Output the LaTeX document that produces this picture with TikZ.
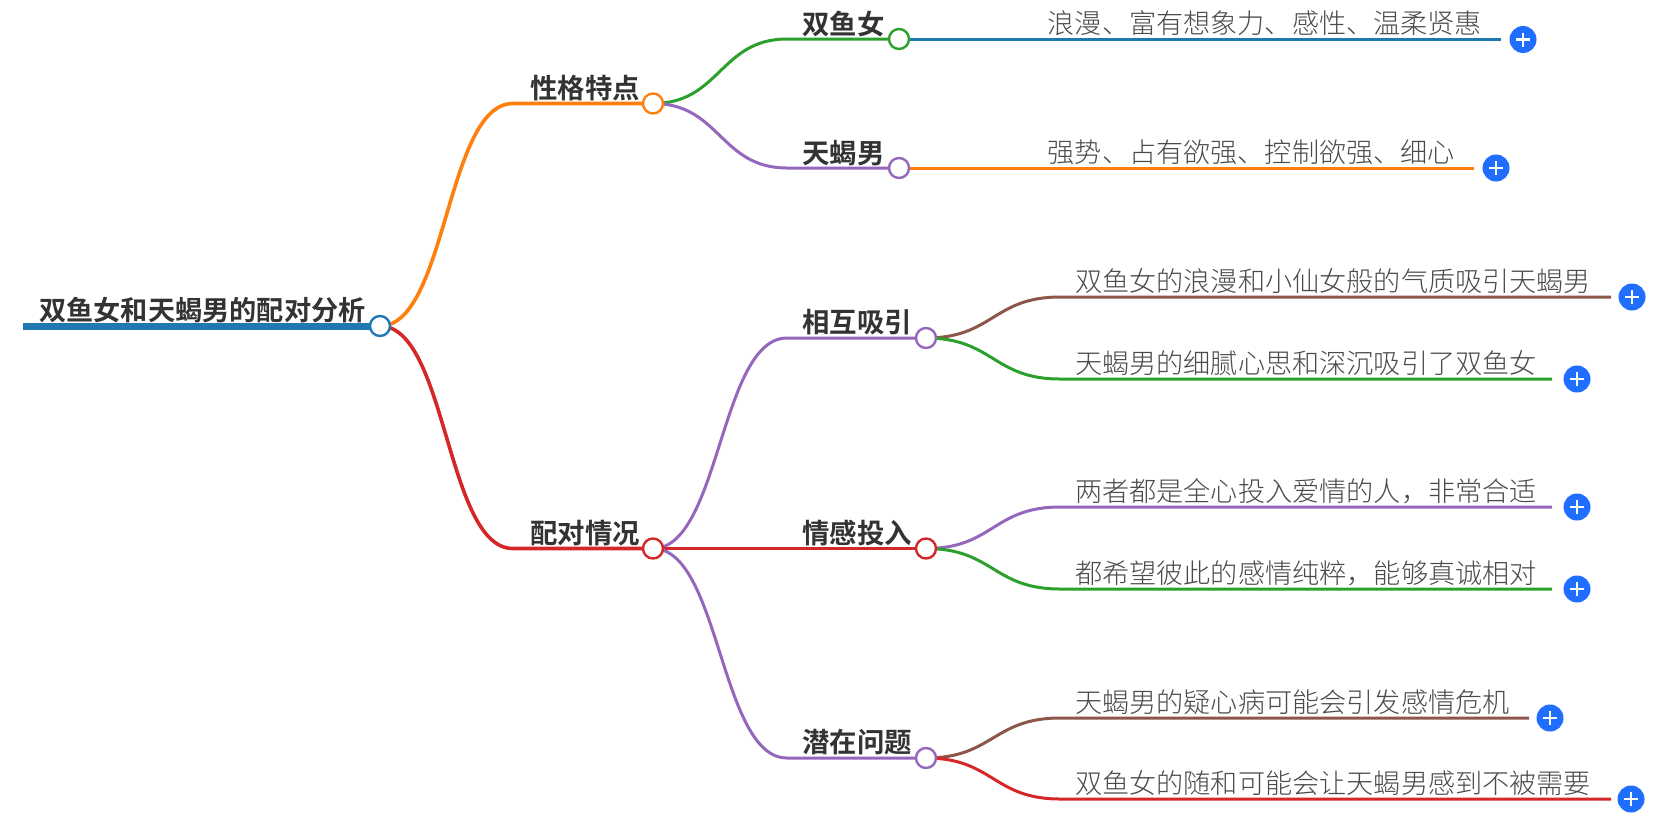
\documentclass[tikz,border=0pt]{standalone}
\usepackage{fontspec}
\usetikzlibrary{backgrounds}
\newfontfamily\cjkbold[BoldFont={Noto Sans CJK SC Bold}]{Noto Sans CJK SC}
\newfontfamily\cjklight{Noto Sans CJK SC Light}
\definecolor{mblue}{HTML}{1F77B4}
\definecolor{morange}{HTML}{FF7F0E}
\definecolor{mgreen}{HTML}{2CA02C}
\definecolor{mred}{HTML}{D62728}
\definecolor{mpurple}{HTML}{9467BD}
\definecolor{mbrown}{HTML}{8C564B}
\definecolor{plusblue}{HTML}{1F6EFF}
\definecolor{ink}{HTML}{333333}
\definecolor{leafink}{HTML}{4A4A4A}
\tikzset{
  hub/.style={circle,draw=#1,fill=white,line width=2.4pt,minimum size=20pt,inner sep=0pt},
  wire/.style={draw=#1,line width=3pt},
  rootlabel/.style={anchor=west,inner sep=0pt,text=ink,font=\cjkbold\bfseries\fontsize{27.2}{30}\selectfont},
  branchlabel/.style={anchor=west,inner sep=0pt,text=ink,font=\cjkbold\bfseries\fontsize{27.4}{30}\selectfont},
  leaflabel/.style={anchor=west,inner sep=0pt,text=leafink,font=\cjklight\fontsize{27.15}{30}\selectfont},
  plusbtn/.style={circle,fill=plusblue,minimum size=27pt,inner sep=0pt,
    path picture={\draw[white,line width=2.6pt]
      ([xshift=-7pt]path picture bounding box.center)--([xshift=7pt]path picture bounding box.center)
      ([yshift=-7pt]path picture bounding box.center)--([yshift=7pt]path picture bounding box.center);}},
}
\newcommand{\curvewire}[4]{\draw[wire=#1] (#2) .. controls +(67,0) and +(-67,0) .. (#3) -- (#4);}
\begin{document}
\begin{tikzpicture}[x=1pt,y=-1pt]
\useasboundingbox (0,0) rectangle (1677,817);
% hubs
\node[hub=mblue] (root) at (380,326) {};
\node[hub=morange] (trait) at (653,103.5) {};
\node[hub=mred] (pair) at (653,548.5) {};
\node[hub=mgreen] (fish) at (899,39) {};
\node[hub=mpurple] (scorp) at (899,168) {};
\node[hub=mpurple] (attract) at (926,338) {};
\node[hub=mred] (emotion) at (926,548.5) {};
\node[hub=mpurple] (risk) at (926,758) {};
% plus buttons
\node[plusbtn] (p1) at (1523,39.5) {};
\node[plusbtn] (p2) at (1496,168) {};
\node[plusbtn] (p3) at (1632,297) {};
\node[plusbtn] (p4) at (1577,379) {};
\node[plusbtn] (p5) at (1577,507) {};
\node[plusbtn] (p6) at (1577,589) {};
\node[plusbtn] (p7) at (1550,718) {};
\node[plusbtn] (p8) at (1631,799) {};
% free ends
\coordinate (rs) at (23,326);
\coordinate (t0) at (513,103.5);
\coordinate (q0) at (513,548.5);
\coordinate (f0) at (787,39);
\coordinate (s0) at (787,168);
\coordinate (a0) at (787,338);
\coordinate (r0) at (787,758);
\coordinate (l3a) at (1060,297);
\coordinate (l3b) at (1611,297);
\coordinate (l4a) at (1060,379);
\coordinate (l4b) at (1552,379);
\coordinate (l5a) at (1060,507);
\coordinate (l5b) at (1552,507);
\coordinate (l6a) at (1060,589);
\coordinate (l6b) at (1552,589);
\coordinate (l7a) at (1060,718);
\coordinate (l7b) at (1529,718);
\coordinate (l8a) at (1060,799);
\coordinate (l8b) at (1611,799);
\coordinate (l1b) at (1501,39);
\coordinate (l2b) at (1474,168);
\begin{scope}[on background layer]
\draw[wire=mblue,line width=7pt] (rs) -- (root.center);
\draw[wire=morange,line width=3.6pt] (root.center) .. controls +(67,0) and +(-67,0) .. (t0) -- (trait.center);
\draw[wire=mred,line width=3.6pt] (root.center) .. controls +(67,0) and +(-67,0) .. (q0) -- (pair.center);
\curvewire{mgreen}{trait.center}{f0}{fish.center}
\curvewire{mpurple}{trait.center}{s0}{scorp.center}
\curvewire{mpurple}{pair.center}{a0}{attract.center}
\draw[wire=mred] (pair.center) -- (emotion.center);
\curvewire{mpurple}{pair.center}{r0}{risk.center}
\draw[wire=mblue] (fish.center) -- (l1b);
\draw[wire=morange] (scorp.center) -- (l2b);
\curvewire{mbrown}{attract.center}{l3a}{l3b}
\curvewire{mgreen}{attract.center}{l4a}{l4b}
\curvewire{mpurple}{emotion.center}{l5a}{l5b}
\curvewire{mgreen}{emotion.center}{l6a}{l6b}
\curvewire{mbrown}{risk.center}{l7a}{l7b}
\curvewire{mred}{risk.center}{l8a}{l8b}
\end{scope}
% labels
\node[rootlabel] (troot) at (39,310) {双鱼女和天蝎男的配对分析};
\node[branchlabel] (ttrait) at (530,88) {性格特点};
\node[branchlabel] (tpair) at (530,533) {配对情况};
\node[branchlabel] (tfish) at (802,24) {双鱼女};
\node[branchlabel] (tscorp) at (802,153) {天蝎男};
\node[branchlabel] (tattract) at (802,322) {相互吸引};
\node[branchlabel] (temotion) at (802,533) {情感投入};
\node[branchlabel] (trisk) at (802,742) {潜在问题};
\node[leaflabel] (l1) at (1047.5,23.5) {浪漫、富有想象力、感性、温柔贤惠};
\node[leaflabel] (l2) at (1047.5,152.5) {强势、占有欲强、控制欲强、细心};
\node[leaflabel] (l3) at (1075,281.5) {双鱼女的浪漫和小仙女般的气质吸引天蝎男};
\node[leaflabel] (l4) at (1075,363) {天蝎男的细腻心思和深沉吸引了双鱼女};
\node[leaflabel] (l5) at (1075,491) {两者都是全心投入爱情的人，非常合适};
\node[leaflabel] (l6) at (1075,573) {都希望彼此的感情纯粹，能够真诚相对};
\node[leaflabel] (l7) at (1075,702) {天蝎男的疑心病可能会引发感情危机};
\node[leaflabel] (l8) at (1075,783) {双鱼女的随和可能会让天蝎男感到不被需要};
\end{tikzpicture}
\end{document}
